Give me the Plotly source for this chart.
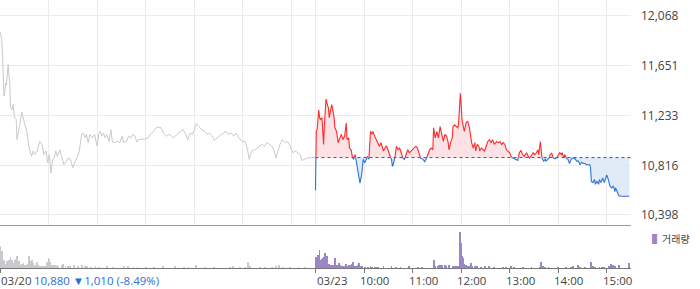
import numpy as np
import plotly.graph_objects as go

# ---------------- data ----------------
prev_close = 10880
session_len = 390  # minutes 09:00-15:30

y_tick_vals = [10398, 10816, 11233, 11651, 12068]
date_labels = ["03/20", "03/23"]
hour_labels = ["10:00", "11:00", "12:00", "13:00", "14:00", "15:00"]
change_text = "10,880 \u25bc1,010 (-8.49%)"
legend_text = "거래량"

# 03/20 intraday price (minutes after 09:00)
d1_min = [0, 1, 2, 3, 4, 5, 6, 7, 8, 10, 11, 12, 13, 15, 16, 18, 20, 21, 24, 27, 30, 33, 36, 39,
          41, 43, 46, 49, 52, 54, 57, 59, 61, 63, 65, 67, 69, 71, 74, 76, 79, 82, 84, 87, 90, 93,
          96, 98, 101, 103, 105, 107, 109, 111, 114, 117, 120, 122, 124, 126, 128, 130, 132, 135,
          137, 139, 142, 145, 148, 151, 153, 156, 159, 162, 164, 167, 169, 171, 175, 179, 183, 186,
          190, 193, 196, 199, 202, 206, 210, 214, 219, 223, 226, 229, 232, 235, 238, 241, 243, 246,
          249, 253, 256, 259, 262, 265, 268, 271, 274, 277, 280, 282, 286, 289, 292, 295, 298, 300,
          303, 306, 308, 311, 315, 318, 321, 324, 327, 330, 333, 336, 339, 341, 343, 346, 349, 353,
          355, 359, 362, 365, 368, 371, 373, 376, 379, 385, 390]
d1_price = [11935, 11900, 11880, 11760, 11560, 11395, 11430, 11505, 11490, 11660, 11570, 11510, 11300,
            11280, 11325, 11215, 11200, 11030, 11140, 11260, 11175, 11100, 10965, 10890,
            10935, 10905, 10935, 11015, 10990, 10905, 10935, 10835, 10905, 10750, 10865, 10875,
            10935, 10890, 10945, 10890, 10820, 10850, 10875, 10865, 10795, 10850,
            10890, 10935, 11075, 11085, 11045, 11075, 11005, 11075, 11045, 11075, 10975, 11075,
            11100, 11060, 11085, 11045, 11075, 11015,
            11115, 11010, 11005, 11015, 11005, 11060, 11005, 11015, 11060, 11045, 11075, 11060,
            11010, 11030, 11030, 11035, 11045, 11075,
            11100, 11130, 11135, 11130, 11085, 11060, 11075, 11045, 11075, 11100, 11115, 11085,
            11030, 11085, 11075, 11130, 11165, 11140,
            11115, 11100, 11075, 11085, 11065, 11025, 11045, 11060, 11075, 11085, 11100, 11075,
            11085, 11060, 11085, 11045, 11030, 11015,
            11015, 10945, 10865, 10935, 10945, 10960, 10975, 10990, 10975, 11005, 10990, 10975,
            10935, 10875, 10920, 10990, 11030, 11005,
            11015, 10975, 10920, 10935, 10920, 10905, 10855, 10865, 10875, 10880, 10880]

# 03/23 intraday price (minutes after 09:00)
d2_min = [0, 1, 2, 4, 5, 6, 8, 9, 10, 11, 13, 14, 16, 17, 19, 20, 21, 23, 24, 26, 28, 30, 32, 34,
          36, 38, 39, 41, 42, 44, 45, 47, 49, 50, 52, 54, 55, 57, 58, 59, 61, 63, 64, 66, 67, 68,
          70, 71, 73, 75, 77, 79, 81, 83, 84, 87, 88, 90, 92, 94, 95, 96, 98, 100, 102, 104, 106,
          108, 110, 112, 114, 116, 118, 120, 124, 126, 127, 130, 133, 135, 137, 139, 141, 143, 145,
          146, 148, 150, 152, 154, 156, 158, 160, 162, 164, 165, 167, 169, 170, 172, 174, 176, 177,
          179, 180, 181, 183, 184, 186, 188, 190, 191, 193, 195, 197, 198, 200, 202, 203, 205, 207,
          209, 211, 213, 215, 217, 219, 221, 224, 226, 228, 230, 232, 234, 236, 238, 240, 242, 244,
          246, 248, 250, 252, 254, 256, 258, 261, 263, 265, 267, 269, 271, 273, 275, 276, 278, 279,
          280, 282, 284, 285, 287, 289, 290, 292, 294, 296, 298, 300, 302, 304, 305, 307, 308, 310,
          312, 314, 316, 318, 320, 323, 325, 327, 329, 331, 333, 335, 337, 339, 340, 341, 343, 345,
          346, 348, 350, 351, 353, 354, 355, 357, 359, 360, 362, 363, 364, 366, 368, 369, 370, 371,
          373, 375, 378, 382, 388]
d2_price = [10605, 11100, 11115, 11280, 11215, 11200, 11215, 11075, 10990, 11155, 11370, 11340, 11295,
            11215, 11280, 11325, 11295, 11215, 11130, 11100, 11005, 11045, 11075, 11030,
            11060, 11170, 11030, 11045, 10960, 10945, 10890, 10865, 10905, 10865, 10805, 10710,
            10665, 10735, 10820, 10865, 10835, 10865, 10890, 10865, 11015, 11100,
            11075, 11100, 11060, 11030, 11005, 10975, 11005, 10945, 10935, 10975, 10975, 10935,
            10890, 10865, 10805, 10820, 10875, 10975, 10945, 10960, 10920,
            10875, 10865, 10905, 10945, 10920, 10935, 10945, 10975, 10960, 10935, 10875, 10865,
            10845, 10870, 10905, 10945, 10960, 10945,
            11130, 11045, 11100, 11045, 11140, 11085, 11015, 11075, 11060, 11005, 10945, 11005,
            11045, 11140, 11155, 11140, 11130, 11185,
            11420, 11325, 11200, 11130, 11100, 11170, 11185, 11140, 11085, 11005, 10960, 11005,
            10935, 10990, 10975, 10935, 10960, 10945,
            10935, 10975, 11015, 11030, 11005, 11030, 10990, 11015, 11005, 11015, 10990, 11005,
            10990, 10945, 10935, 10920, 10890, 10875,
            10870, 10865, 10855, 10920, 10940, 10905, 10890, 10920, 10890, 10875, 10895, 10920,
            10905, 10920, 10945, 10905, 11015, 10945,
            10875, 10850, 10865, 10850, 10865, 10875, 10905, 10915, 10875, 10870, 10875, 10905,
            10920, 10905, 10920, 10875, 10905, 10875,
            10865, 10830, 10865, 10875, 10875, 10850, 10850, 10820, 10840, 10830, 10830, 10820,
            10820, 10820, 10795, 10680, 10670, 10695,
            10655, 10680, 10655, 10695, 10670, 10695, 10710, 10670, 10725, 10735, 10695, 10670,
            10640, 10625, 10640, 10625, 10595, 10625,
            10585, 10560, 10555, 10555, 10555]

# volume (arbitrary units) per minute
v1_min = [0, 1, 2, 3, 4, 5, 6, 7, 8, 9, 10, 11, 12, 13, 14, 15, 16, 17, 18, 19, 20, 21, 22, 23,
          24, 25, 26, 27, 28, 29, 30, 31, 32, 33, 34, 35, 36, 37, 38, 39, 40, 41, 42, 43, 44, 45,
          46, 47, 48, 49, 50, 52, 54, 56, 58, 60, 61, 62, 64, 66, 67, 69, 72, 76, 78, 81, 84, 87,
          91, 96, 101, 105, 108, 112, 118, 122, 132, 140, 153, 158, 165, 170, 181, 190, 202, 216,
          227, 233, 242, 253, 264, 284, 288, 297, 303, 307, 309, 321, 328, 336, 341, 345, 350,
          358, 369, 377]
v1_vol = [217, 120, 173, 100, 60, 83, 40, 40, 50, 67, 45, 83, 40, 107, 60, 83, 50, 45, 40, 83, 93,
          117, 50, 67, 40, 33, 35, 40, 40, 50, 35, 33, 30, 30, 27, 40, 117, 45, 67, 40, 77, 50,
          35, 30, 33, 35, 57, 30, 25, 23, 25, 17, 23, 25, 57, 100, 93, 60, 27, 20, 27, 33, 17, 33,
          40, 17, 15, 17, 33, 17, 30, 23, 17, 10, 20, 10, 20, 10, 20, 17, 10, 10, 10, 10, 17, 13,
          10, 10, 30, 10, 10, 10, 17, 10, 10, 60, 23, 10, 10, 10, 17, 30, 10, 10, 10, 10]

v2_min = [0, 1, 2, 3, 4, 5, 6, 7, 8, 9, 10, 11, 12, 13, 14, 15, 16, 17, 18, 19, 20, 21, 22, 23,
          24, 25, 26, 27, 28, 29, 30, 32, 34, 36, 38, 40, 41, 43, 45, 46, 48, 50, 52, 54, 55, 58,
          61, 65, 68, 70, 73, 75, 77, 84, 94, 100, 105, 116, 127, 132, 146, 148, 151, 153, 155,
          157, 160, 162, 165, 170, 172, 174, 176, 178, 179, 180, 181, 182, 184, 186, 188, 190,
          192, 194, 197, 200, 205, 210, 215, 221, 232, 236, 242, 245, 257, 267, 277, 279, 281,
          284, 288, 300, 310, 316, 318, 324, 327, 333, 340, 341, 343, 346, 351, 354, 357, 363,
          365, 368, 370, 375, 388]
v2_vol = [107, 107, 107, 127, 90, 177, 83, 70, 90, 100, 107, 50, 150, 80, 117, 40, 45, 40, 35, 33,
          27, 30, 33, 25, 100, 27, 20, 23, 30, 50, 27, 13, 13, 20, 40, 23, 27, 33, 43, 60, 23,
          23, 33, 50, 20, 13, 10, 10, 17, 10, 10, 10, 10, 20, 20, 10, 10, 20, 10, 10, 80, 23, 23,
          27, 27, 27, 27, 13, 33, 20, 20, 20, 20, 340, 360, 250, 117, 100, 40, 33, 20, 20, 47,
          20, 17, 13, 10, 20, 13, 10, 10, 10, 20, 10, 10, 10, 10, 60, 20, 10, 10, 10, 10, 10, 20,
          27, 10, 10, 33, 60, 23, 10, 7, 7, 7, 23, 40, 27, 13, 30, 50]

# ---------------- styles ----------------
GRID = "#ebebeb"
GRAY_LINE = "#c9cacd"
RED = "#ff2b2b"
RED_FILL = "rgba(252,222,226,0.9)"
BLUE = "#2f72d9"
BLUE_FILL = "rgba(222,233,247,0.9)"
VOL_GRAY = "#c9cacd"
VOL_PURPLE = "#9b87c6"
TXT = "#444444"
FONT = "Open Sans"
LABEL_SIZE = 11.5

# ---------------- derived series ----------------
x1 = np.array(d1_min, dtype=float)
p1 = np.array(d1_price, dtype=float)
x2 = session_len + np.array(d2_min, dtype=float)
p2 = np.array(d2_price, dtype=float)

# insert crossing points with the previous close
xs, ys = [x2[0]], [p2[0]]
for i in range(1, len(x2)):
    a, b = p2[i - 1] - prev_close, p2[i] - prev_close
    if a * b < 0:
        xc = x2[i - 1] + (-a) / (b - a) * (x2[i] - x2[i - 1])
        xs.append(xc)
        ys.append(prev_close)
    xs.append(x2[i])
    ys.append(p2[i])
xs = np.array(xs)
ys = np.array(ys)
base = np.full_like(ys, prev_close)
red_y = [v if v >= prev_close else None for v in ys]
blue_y = [v if v <= prev_close else None for v in ys]

fig = go.Figure()

# fills
fig.add_trace(go.Scatter(x=xs, y=base, mode="lines", line=dict(width=0), hoverinfo="skip",
                         showlegend=False, xaxis="x", yaxis="y"))
fig.add_trace(go.Scatter(x=xs, y=np.maximum(ys, prev_close), mode="lines", line=dict(width=0),
                         fill="tonexty", fillcolor=RED_FILL, hoverinfo="skip", showlegend=False))
fig.add_trace(go.Scatter(x=xs, y=base, mode="lines", line=dict(width=0), hoverinfo="skip",
                         showlegend=False))
fig.add_trace(go.Scatter(x=xs, y=np.minimum(ys, prev_close), mode="lines", line=dict(width=0),
                         fill="tonexty", fillcolor=BLUE_FILL, hoverinfo="skip", showlegend=False))
# previous close dotted line
fig.add_trace(go.Scatter(x=[session_len, 2 * session_len], y=[prev_close, prev_close], mode="lines",
                         line=dict(color="#555555", width=1, dash="dot"), showlegend=False))
# day 1 line
fig.add_trace(go.Scatter(x=x1, y=p1, mode="lines", line=dict(color=GRAY_LINE, width=1),
                         showlegend=False))
# day 2 lines
fig.add_trace(go.Scatter(x=xs, y=red_y, mode="lines", line=dict(color=RED, width=1.1),
                         connectgaps=False, showlegend=False))
fig.add_trace(go.Scatter(x=xs, y=blue_y, mode="lines", line=dict(color=BLUE, width=1.1),
                         connectgaps=False, showlegend=False))

# volume
fig.add_trace(go.Bar(x=v1_min, y=v1_vol, width=1.1, marker=dict(color=VOL_GRAY, line=dict(width=0)),
                     xaxis="x2", yaxis="y2", showlegend=False))
fig.add_trace(go.Bar(x=[session_len + m for m in v2_min], y=v2_vol, width=1.1,
                     marker=dict(color=VOL_PURPLE, line=dict(width=0)),
                     xaxis="x2", yaxis="y2", showlegend=False))

W, H = 700, 289
ml, mr, mt, mb = 0, 69, 0, 21
plot_h = H - mt - mb  # 268
price_bottom_px = 225
vol_top_px = 228
hour_ticks_d1 = [60 * k for k in range(1, 7) if 60 * k < session_len]
hour_ticks_d2 = [session_len + 60 * k for k in range(1, 7)]
grid_ticks = hour_ticks_d1 + [session_len] + hour_ticks_d2

fig.update_layout(
    width=W, height=H,
    margin=dict(l=ml, r=mr, t=mt, b=mb, pad=0),
    paper_bgcolor="white", plot_bgcolor="white",
    font=dict(family=FONT, size=12, color=TXT),
    bargap=0,
    xaxis=dict(domain=[0, 1], range=[0, 2 * session_len], anchor="y", tickvals=grid_ticks,
               showticklabels=False, ticks="", showgrid=True, gridcolor=GRID, gridwidth=1,
               showline=True, linecolor="#9a9a9a", linewidth=1, zeroline=False, fixedrange=True),
    yaxis=dict(domain=[(plot_h - price_bottom_px) / plot_h, 1], range=[10314, 12202],
               tickvals=y_tick_vals, showticklabels=False, ticks="", showgrid=True,
               gridcolor=GRID, gridwidth=1, zeroline=False, showline=False),
    xaxis2=dict(domain=[0, 1], range=[0, 2 * session_len], anchor="y2", matches="x",
                tickvals=[0, session_len] + hour_ticks_d2, showticklabels=False, ticks="outside",
                ticklen=4, tickcolor="#777777", tickwidth=1, showgrid=False, showline=True,
                linecolor="#777777", linewidth=1, zeroline=False),
    yaxis2=dict(domain=[0, (plot_h - vol_top_px) / plot_h], range=[0, 400], showgrid=False,
                showticklabels=False, zeroline=False, showline=False, ticks=""),
)

ann = []
for v in y_tick_vals:
    ann.append(dict(x=1, xref="paper", y=v, yref="y", text=f"{v:,}", showarrow=False,
                    xanchor="left", yanchor="middle", xshift=9, borderpad=0,
                    font=dict(size=12, color=TXT)))
label_y = -(280.5 - plot_h) / plot_h
common = dict(yref="paper", y=label_y, showarrow=False, yanchor="middle", borderpad=0,
              xanchor="left")
ann.append(dict(x=0, xref="x", text=date_labels[0], font=dict(size=LABEL_SIZE, color=TXT), **common))
ann.append(dict(x=0, xref="x", text=change_text, xshift=33,
                font=dict(size=LABEL_SIZE, color="#2a6fd6"), **common))
ann.append(dict(x=session_len, xref="x", text=date_labels[1],
                font=dict(size=LABEL_SIZE, color=TXT), **common))
for t, lab in zip(hour_ticks_d2, hour_labels):
    ann.append(dict(x=t, xref="x", text=lab, xshift=-5, font=dict(size=LABEL_SIZE, color=TXT),
                    **common))
ann.append(dict(x=1, xref="paper", y=(plot_h - 238) / plot_h, yref="paper",
                text=f'<span style="color:{VOL_PURPLE}">\u258c</span>{legend_text}',
                showarrow=False, xanchor="left", yanchor="middle", xshift=20, borderpad=0,
                font=dict(size=10, color=TXT, family="Noto Sans CJK KR")))
fig.update_layout(annotations=ann)

fig.write_html("out.html")
